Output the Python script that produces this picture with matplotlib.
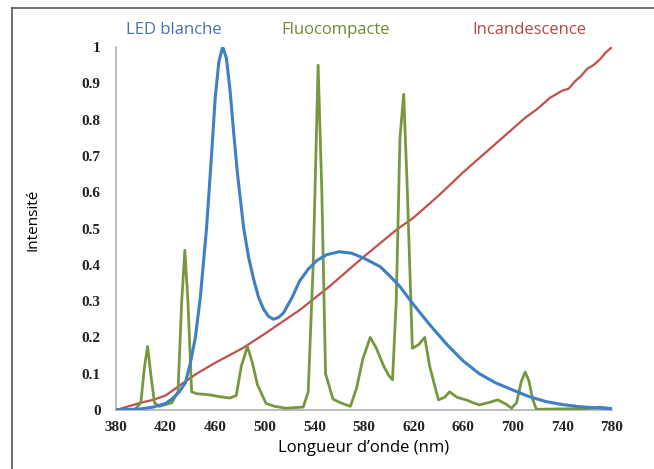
import numpy as np
import matplotlib.pyplot as plt
from matplotlib.lines import Line2D

# Wavelengths (nm) and intensities
led_nm = [380, 400, 410, 420, 425, 431, 436, 440, 444, 448, 453, 457, 460, 463,
          466, 469, 472, 475, 478, 483, 487, 491, 495, 499, 503, 507, 511, 515,
          522, 528, 535, 542, 550, 560, 570, 580, 593, 600, 609, 620, 633, 647,
          660, 673, 686, 700, 713, 727, 740, 754, 766, 780]
led_val = [0.0, 0.003, 0.008, 0.018, 0.03, 0.05, 0.075, 0.13, 0.2, 0.31, 0.5, 0.7,
           0.86, 0.96, 1.0, 0.97, 0.88, 0.76, 0.65, 0.5, 0.42, 0.36, 0.31, 0.278,
           0.258, 0.25, 0.255, 0.267, 0.31, 0.355, 0.388, 0.412, 0.428, 0.436,
           0.432, 0.418, 0.395, 0.372, 0.34, 0.29, 0.235, 0.18, 0.135, 0.1, 0.075,
           0.055, 0.037, 0.023, 0.015, 0.009, 0.006, 0.004]

fluo_nm = [380, 395, 400, 403, 405.5, 408, 411, 415, 425, 430, 433, 435.5, 438,
           441, 445, 455, 465, 472, 477, 481, 486, 490, 494, 501, 508, 517, 531,
           535, 539, 543, 546, 549, 555, 561, 569, 574, 579, 585, 590, 596, 600,
           603, 606, 609, 612, 615, 619, 624, 629, 633, 640, 645, 649, 655, 663,
           668, 673, 680, 688, 695, 699, 703, 707, 710, 713, 716, 719, 740, 760,
           770, 780]
fluo_val = [0.0, 0.0, 0.02, 0.12, 0.175, 0.1, 0.02, 0.01, 0.02, 0.05, 0.3, 0.44,
            0.3, 0.05, 0.045, 0.042, 0.036, 0.033, 0.04, 0.12, 0.175, 0.13, 0.07,
            0.018, 0.01, 0.005, 0.008, 0.05, 0.4, 0.95, 0.6, 0.1, 0.03, 0.02, 0.01,
            0.06, 0.14, 0.2, 0.17, 0.12, 0.095, 0.083, 0.3, 0.75, 0.87, 0.6, 0.17,
            0.18, 0.2, 0.12, 0.028, 0.035, 0.05, 0.035, 0.027, 0.02, 0.014, 0.02,
            0.028, 0.015, 0.005, 0.02, 0.08, 0.105, 0.08, 0.03, 0.002, 0.003, 0.004,
            0.008, 0.003]

inc_nm = [380, 390, 400, 410, 420, 434, 445, 460, 482, 500, 515, 528, 552, 579,
          606, 620, 640, 660, 680, 700, 710, 720, 730, 740, 745, 750, 755, 760,
          765, 770, 775, 780]
inc_val = [0.0, 0.01, 0.02, 0.028, 0.04, 0.074, 0.1, 0.13, 0.17, 0.21, 0.245,
           0.275, 0.34, 0.42, 0.496, 0.53, 0.59, 0.655, 0.715, 0.775, 0.805, 0.83,
           0.86, 0.88, 0.885, 0.905, 0.92, 0.94, 0.95, 0.965, 0.985, 1.0]

xticks = [380, 420, 460, 500, 540, 580, 620, 660, 700, 740, 780]
yticks = [0, 0.1, 0.2, 0.3, 0.4, 0.5, 0.6, 0.7, 0.8, 0.9, 1]
ylabels = ['0', '0.1', '0.2', '0.3', '0.4', '0.5', '0.6', '0.7', '0.8', '0.9', '1']

c_led = '#3f7fc6'
c_fluo = '#77983f'
c_inc = '#c0504d'

fig = plt.figure(figsize=(6.54, 4.69), dpi=100)
ax = fig.add_axes([116 / 654, 1 - 410 / 469, 496 / 654, 363 / 469])

ax.plot(inc_nm, inc_val, color=c_inc, lw=1.6, zorder=2, solid_joinstyle='round')
ax.plot(fluo_nm, fluo_val, color=c_fluo, lw=2.0, zorder=3, solid_joinstyle='round')
ax.plot(led_nm, led_val, color=c_led, lw=2.2, zorder=4, solid_joinstyle='round')

ax.set_xlim(380, 780)
ax.set_ylim(0, 1)
ax.set_xticks(xticks)
ax.set_yticks(yticks)
ax.set_yticklabels(ylabels)
ax.tick_params(length=0, labelsize=11, colors='#222222')
ax.tick_params(axis='y', pad=11)
ax.tick_params(axis='x', pad=8)
for lab in ax.get_xticklabels() + ax.get_yticklabels():
    lab.set_fontfamily('Liberation Serif')
    lab.set_fontweight('bold')

for s in ['top', 'right']:
    ax.spines[s].set_visible(False)
for s in ['left', 'bottom']:
    ax.spines[s].set_color('#b0b0b0')
    ax.spines[s].set_linewidth(1.2)

ax.set_xlabel("Longueur d\u2019onde (nm)", fontsize=12, family='Open Sans',
              labelpad=4)
fig.text(33 / 654, 1 - 220 / 469, "Intensit\u00e9", rotation=90, fontsize=11,
         family='Open Sans', ha='center', va='center')

fig.text(174 / 654, 1 - 30 / 469, "LED blanche", color='#4a6fb0', fontsize=12,
         family='Open Sans', ha='center', va='center')
fig.text(336 / 654, 1 - 30 / 469, "Fluocompacte", color='#6b8a35', fontsize=12,
         family='Open Sans', ha='center', va='center')
fig.text(529 / 654, 1 - 30 / 469, "Incandescence", color='#b04a45', fontsize=12,
         family='Open Sans', ha='center', va='center')

# outer frame (left and top edges visible)
fig.add_artist(Line2D([12 / 654, 12 / 654], [0, 1 - 8 / 469], color='#555555',
                      lw=1.2, transform=fig.transFigure))
fig.add_artist(Line2D([12 / 654, 1], [1 - 8 / 469, 1 - 8 / 469], color='#555555',
                      lw=1.2, transform=fig.transFigure))

fig.savefig('out.png', dpi=100)
